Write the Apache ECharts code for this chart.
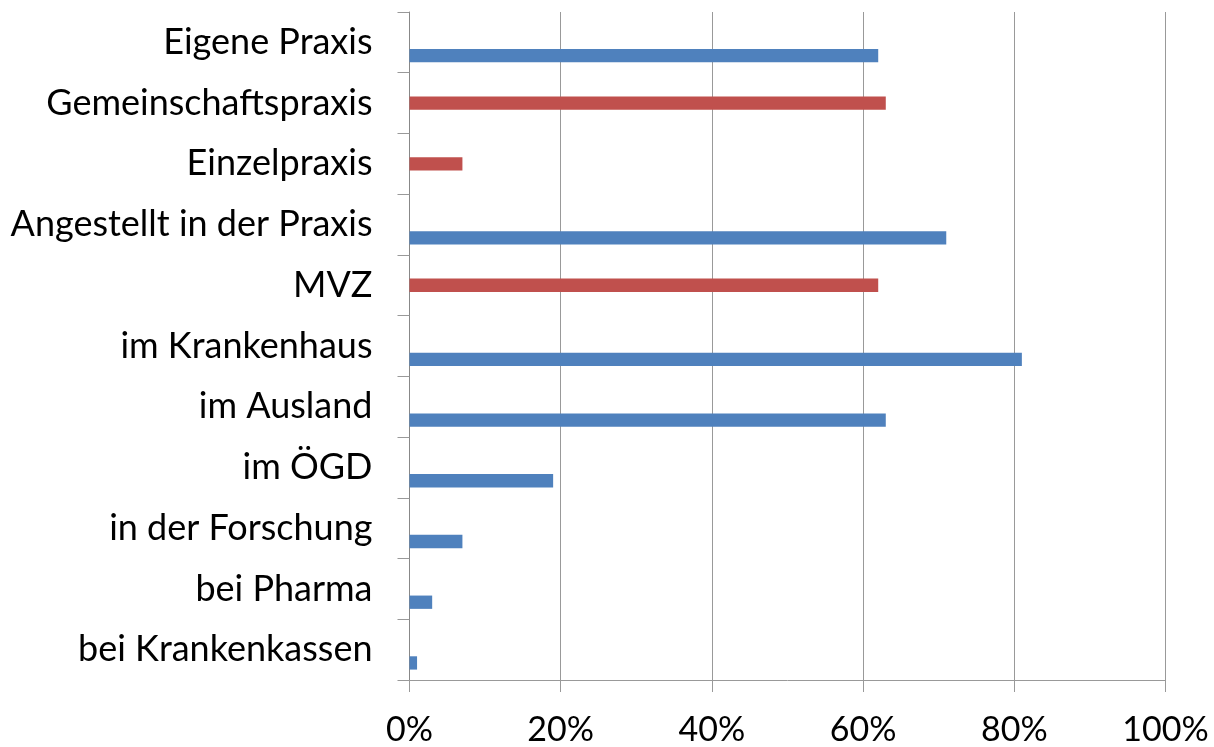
<!DOCTYPE html>
<html>
<head>
<meta charset="utf-8">
<script src="https://cdn.jsdelivr.net/npm/echarts@6/dist/echarts.min.js"></script>
<style>
html,body{margin:0;padding:0;background:#fff;}
#chart{width:1214px;height:747px;}
</style>
</head>
<body>
<div id="chart"></div>
<script>
const categories = ["Eigene Praxis","Gemeinschaftspraxis","Einzelpraxis","Angestellt in der Praxis","MVZ","im Krankenhaus","im Ausland","im ÖGD","in der Forschung","bei Pharma","bei Krankenkassen"];
const blueValues = [62, null, null, 71, null, 81, 63, 19, 7, 3, 1];
const redValues  = [null, 63, 7, null, 62, null, null, null, null, null, null];
const emptyValues = [null, null, null, null, null, null, null, null, null, null, null];
const xTicks = [0, 20, 40, 60, 80, 100];

const chart = echarts.init(document.getElementById('chart'));
const font = 'Lato, "Open Sans", sans-serif';
chart.setOption({
  animation: false,
  backgroundColor: '#fff',
  grid: {left: 409.5, right: 48.5, top: 12, bottom: 67, containLabel: false},
  xAxis: {
    type: 'value', min: xTicks[0], max: xTicks[xTicks.length-1], interval: xTicks[1]-xTicks[0],
    axisLine: {show: true, lineStyle: {color: '#999', width: 1}},
    axisTick: {show: true, length: 12, lineStyle: {color: '#999'}},
    splitLine: {show: true, lineStyle: {color: '#999', width: 1}},
    axisLabel: {formatter: '{value}%', color: '#000', fontSize: 34, fontFamily: font, margin: 33}
  },
  yAxis: {
    type: 'category', data: categories, inverse: true,
    axisLine: {show: true, lineStyle: {color: '#888', width: 1}},
    axisTick: {show: true, length: 12, alignWithLabel: false, lineStyle: {color: '#999'}},
    axisLabel: {color: '#000', fontSize: 36, fontFamily: font, margin: 37}
  },
  series: [
    {type: 'bar', data: emptyValues, barWidth: 13.3, barGap: '0%', itemStyle: {color: '#9BBB59'}},
    {type: 'bar', data: redValues, barWidth: 13.3, barGap: '0%', itemStyle: {color: '#C0504D'}},
    {type: 'bar', data: blueValues, barWidth: 13.3, barGap: '0%', itemStyle: {color: '#4F81BD'}}
  ]
});
</script>
</body>
</html>
